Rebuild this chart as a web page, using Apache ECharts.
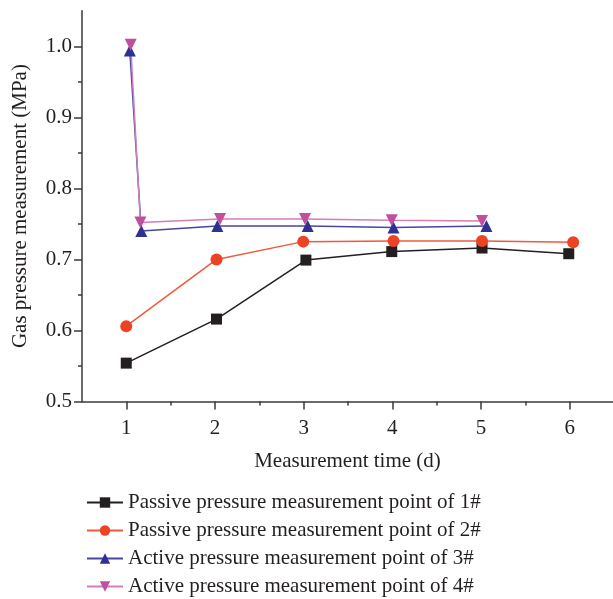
<!DOCTYPE html>
<html>
<head>
<meta charset="utf-8">
<script src="https://cdn.jsdelivr.net/npm/echarts@6/dist/echarts.min.js"></script>
<style>
  html, body { margin: 0; padding: 0; background: #fff; }
  #main { width: 613px; height: 599px; }
</style>
</head>
<body>
<div id="main"></div>
<script>
// series names
var names = [
  'Passive pressure measurement point of 1#',
  'Passive pressure measurement point of 2#',
  'Active pressure measurement point of 3#',
  'Active pressure measurement point of 4#'
]

var days1 = [1, 2.02, 3.03, 4, 5.02, 6]
var days2 = [1, 2.02, 3, 4.02, 5.02, 6.05]
var days3 = [1.04, 1.17, 2.03, 3.05, 4.02, 5.07]
var days4 = [1.05, 1.16, 2.06, 3.02, 4, 5.02]

// gas pressure (MPa)
var p1 = [0.554, 0.616, 0.699, 0.711, 0.716, 0.708]
var p2 = [0.606, 0.700, 0.725, 0.726, 0.726, 0.724]
var p3 = [0.994, 0.740, 0.747, 0.747, 0.745, 0.747]
var p4 = [1.002, 0.752, 0.757, 0.757, 0.755, 0.754]

// axis ticks
var xTickMin = 1, xTickMax = 6, xStep = 1
var yTickMin = 0.5, yTickMax = 1.0, yStep = 0.1

function pares(xs, ys) {
  var out = []
  for (var i = 0; i < xs.length; i++) {
    out.push([xs[i], ys[i]])
  }
  return out
}

var font = 'Liberation Serif'
var ink = '#231f20'
var axisCol = '#3a3a3a'

function xian(nm, d, col, lineCol, sym, size, rot) {
  return {
    name: nm,
    type: 'line',
    xAxisIndex: 0,
    yAxisIndex: 0,
    data: d,
    symbol: sym,
    symbolSize: size,
    symbolRotate: rot || 0,
    clip: false,
    lineStyle: { color: lineCol, width: 1.5 },
    itemStyle: { color: col, borderWidth: 0 },
    emphasis: { disabled: true }
  }
}

var myChart = echarts.init(document.getElementById('main'))

var option = {
  animation: false,
  backgroundColor: '#fff',
  grid: [
    // plot area (0.5..6.5 x 0.5..1.05)
    { left: 82, right: -1, top: 10.7, bottom: 197.5 },
    // tick area (1..6 x 0.5..1.0)
    { left: 126.33, right: 43.33, top: 46.25, bottom: 197.5 }
  ],
  legend: {
    orient: 'vertical',
    left: 81,
    top: 487,
    height: 140,
    itemWidth: 36,
    itemHeight: 13,
    itemGap: 7,
    textStyle: { fontFamily: font, fontSize: 21, color: ink },
    data: names
  },
  xAxis: [
    {
      gridIndex: 0,
      type: 'value',
      min: 0.5,
      max: 6.5,
      name: 'Measurement time (d)',
      nameLocation: 'middle',
      nameGap: 49,
      nameTextStyle: { fontFamily: font, fontSize: 21, color: ink },
      axisLine: { show: true, lineStyle: { color: axisCol, width: 1.5 } },
      axisTick: { show: false },
      axisLabel: { show: false },
      splitLine: { show: false }
    },
    {
      gridIndex: 1,
      type: 'value',
      min: xTickMin,
      max: xTickMax,
      interval: xStep,
      axisLine: { show: false },
      axisTick: { show: true, length: 8, lineStyle: { color: axisCol, width: 1.5 } },
      minorTick: { show: true, splitNumber: 2, length: 4, lineStyle: { color: axisCol, width: 1.5 } },
      axisLabel: { margin: 16, fontFamily: font, fontSize: 21, color: ink },
      splitLine: { show: false },
      minorSplitLine: { show: false }
    }
  ],
  yAxis: [
    {
      gridIndex: 0,
      type: 'value',
      min: 0.5,
      max: 1.05,
      name: 'Gas pressure measurement (MPa)',
      nameLocation: 'middle',
      nameGap: 51,
      nameTextStyle: { fontFamily: font, fontSize: 21, color: ink },
      axisLine: { show: true, lineStyle: { color: axisCol, width: 1.5 } },
      axisTick: { show: false },
      axisLabel: { show: false },
      splitLine: { show: false }
    },
    {
      gridIndex: 1,
      type: 'value',
      min: yTickMin,
      max: yTickMax,
      interval: yStep,
      offset: 44.33,
      axisLine: { show: false },
      axisTick: { show: true, length: 8, lineStyle: { color: axisCol, width: 1.5 } },
      minorTick: { show: true, splitNumber: 2, length: 4, lineStyle: { color: axisCol, width: 1.5 } },
      axisLabel: {
        margin: 10,
        fontFamily: font,
        fontSize: 21,
        color: ink,
        formatter: function (v) { return v.toFixed(1) }
      },
      splitLine: { show: false },
      minorSplitLine: { show: false }
    }
  ],
  series: [
    xian(names[0], pares(days1, p1), '#231f20', '#231f20', 'rect', 11),
    xian(names[1], pares(days2, p2), '#ef4123', '#f05a3c', 'circle', 12),
    xian(names[2], pares(days3, p3), '#2e3192', '#4547a0', 'triangle', 12),
    xian(names[3], pares(days4, p4), '#c0509e', '#d47dbb', 'triangle', 12, 180)
  ]
}

myChart.setOption(option)
</script>
</body>
</html>
